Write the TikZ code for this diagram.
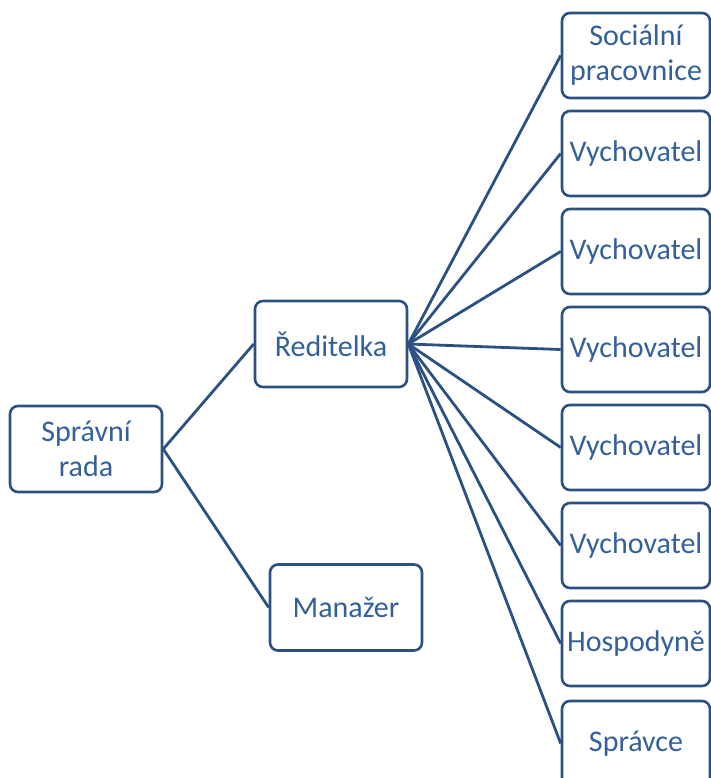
\documentclass[tikz,border=0pt]{standalone}
\usepackage{fontspec}
\setmainfont{Carlito}
\definecolor{boxblue}{HTML}{2B5182}
\definecolor{textblue}{HTML}{33609A}
\begin{document}
\begin{tikzpicture}[x=1pt, y=-1pt,
    every node/.style={rectangle, rounded corners=8pt, draw=boxblue, line width=2.6pt, fill=white,
      text=textblue, align=center, inner sep=0pt,
      font=\fontsize{30}{35}\selectfont},
    boss/.style={minimum width=152pt, minimum height=86pt},
    staff/.style={minimum width=148pt, minimum height=85pt},
    link/.style={draw=boxblue, line width=2.8pt}]
      \useasboundingbox (0,0) rectangle (711,778);
      \clip (0,0) rectangle (711,778);

      \node[boss] (sprava) at (86,449) {Správní\\rada};
      \node[boss] (reditelka) at (331,344) {Ředitelka};
      \node[boss] (manazer) at (346,607.5) {Manažer};

      \node[staff] (soc) at (636,55.5) {Sociální\\pracovnice};
      \node[staff] (vych1) at (636,153.5) {Vychovatel};
      \node[staff] (vych2) at (636,251.5) {Vychovatel};
      \node[staff] (vych3) at (636,349.5) {Vychovatel};
      \node[staff] (vych4) at (636,447.5) {Vychovatel};
      \node[staff] (vych5) at (636,545.5) {Vychovatel};
      \node[staff] (hosp) at (636,643.5) {Hospodyně};
      \node[staff] (spravce) at (636,743.5) {Správce};

      \draw[link] (sprava.east) -- (reditelka.west);
      \draw[link] (sprava.east) -- (manazer.west);
      \draw[link] (reditelka.east) -- (soc.west);
      \draw[link] (reditelka.east) -- (vych1.west);
      \draw[link] (reditelka.east) -- (vych2.west);
      \draw[link] (reditelka.east) -- (vych3.west);
      \draw[link] (reditelka.east) -- (vych4.west);
      \draw[link] (reditelka.east) -- (vych5.west);
      \draw[link] (reditelka.east) -- (hosp.west);
      \draw[link] (reditelka.east) -- (spravce.west);
    \end{tikzpicture}
\end{document}
